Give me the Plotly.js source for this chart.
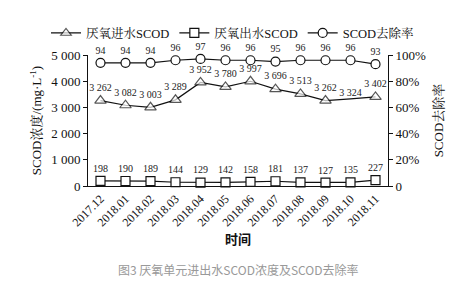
<!DOCTYPE html>
<html>
<head>
<meta charset="utf-8">
<script src="https://cdn.plot.ly/plotly-3.0.1.min.js"></script>
<style>html,body{margin:0;padding:0;background:#fff;}#chart{width:456px;height:290px;}</style>
</head>
<body>
<div id="chart"></div>
<script>
const months = ["2017.12","2018.01","2018.02","2018.03","2018.04","2018.05","2018.06","2018.07","2018.08","2018.09","2018.10","2018.11"];
const influentSCOD = [3262,3082,3003,3289,3952,3780,3997,3696,3513,3262,3324,3402];
const effluentSCOD = [198,190,189,144,129,142,158,181,137,127,135,227];
const removalRate = [94,94,94,96,97,96,96,95,96,96,96,93];
const rightTickVals = [0,20,40,60,80,100];
const rightTickText = ["0","20%","40%","60%","80%","100%"];
const leftTickVals = [0,1000,2000,3000,4000,5000];

const serif = "Liberation Serif, Noto Serif CJK SC, Noto Sans CJK SC, serif";
const lbl = {family: serif, size: 10, color: "#222"};
// the reference draws no marker for the 2018.10 influent point
const influentMarkerSize = months.map((m, i) => i === 10 ? 0 : 10);

const traces = [
  {x: months, y: influentSCOD, name: "厌氧进水SCOD", type: "scatter", mode: "lines+markers+text", cliponaxis: false,
   line: {color: "#111", width: 1.2}, marker: {symbol: "triangle-up", size: influentMarkerSize, color: "#fff", line: {color: "#111", width: 1.2}},
   texttemplate: "%{y:,}", textposition: "top center", textfont: lbl},
  {x: months, y: effluentSCOD, name: "厌氧出水SCOD", type: "scatter", mode: "lines+markers+text", cliponaxis: false,
   line: {color: "#111", width: 1.2}, marker: {symbol: "square", size: 9, color: "#fff", line: {color: "#111", width: 1.2}},
   texttemplate: "%{y}", textposition: "top center", textfont: lbl},
  {x: months, y: removalRate, name: "SCOD去除率", type: "scatter", mode: "lines+markers+text", yaxis: "y2", cliponaxis: false,
   line: {color: "#111", width: 1.2}, marker: {symbol: "circle", size: 9, color: "#fff", line: {color: "#111", width: 1.2}},
   texttemplate: "%{y}", textposition: "top center", textfont: lbl}
];

const layout = {
  width: 456, height: 290,
  margin: {l: 88, r: 68, t: 55, b: 104},
  paper_bgcolor: "#fff", plot_bgcolor: "#fff",
  separators: ". ",
  showlegend: true,
  legend: {orientation: "h", x: -0.14, y: 1.28, xanchor: "left", yanchor: "top", bgcolor: "rgba(0,0,0,0)",
           font: {family: serif, size: 12.5, color: "#111"}, itemwidth: 30, traceorder: "normal"},
  xaxis: {type: "category", range: [-0.5, 11.5], showline: true, linecolor: "#111", linewidth: 1,
          ticks: "", tickangle: -45, tickfont: {family: serif, size: 12, color: "#111"},
          showgrid: false, zeroline: false,
          title: {text: "<b>时间</b>", font: {family: "Noto Sans CJK SC, sans-serif", size: 13, color: "#111"}, standoff: 0}},
  yaxis: {range: [0, 5000], tickvals: leftTickVals, tickformat: ",d", showline: true, linecolor: "#111", linewidth: 1,
          ticks: "outside", ticklen: 4, tickcolor: "#111", showgrid: false, zeroline: false,
          tickfont: {family: serif, size: 13, color: "#111"},
          title: {text: "SCOD浓度/(mg·L<sup>-1</sup>)", font: {family: serif, size: 13, color: "#111"}, standoff: 6}},
  yaxis2: {overlaying: "y", side: "right", range: [0, 100], tickvals: rightTickVals, ticktext: rightTickText,
           showline: true, linecolor: "#111", linewidth: 1, ticks: "outside", ticklen: 4, tickcolor: "#111",
           showgrid: false, zeroline: false, tickfont: {family: serif, size: 13, color: "#111"},
           title: {text: "SCOD去除率", font: {family: serif, size: 13, color: "#111"}, standoff: 8}},
  annotations: [
    {text: "图3 厌氧单元进出水SCOD浓度及SCOD去除率", xref: "paper", yref: "paper", x: 0.5, y: -0.64,
     xanchor: "center", yanchor: "middle", showarrow: false,
     font: {family: "Noto Sans CJK SC, sans-serif", size: 12, color: "#999"}}
  ]
};

Plotly.newPlot("chart", traces, layout, {staticPlot: true, displayModeBar: false});
</script>
</body>
</html>
